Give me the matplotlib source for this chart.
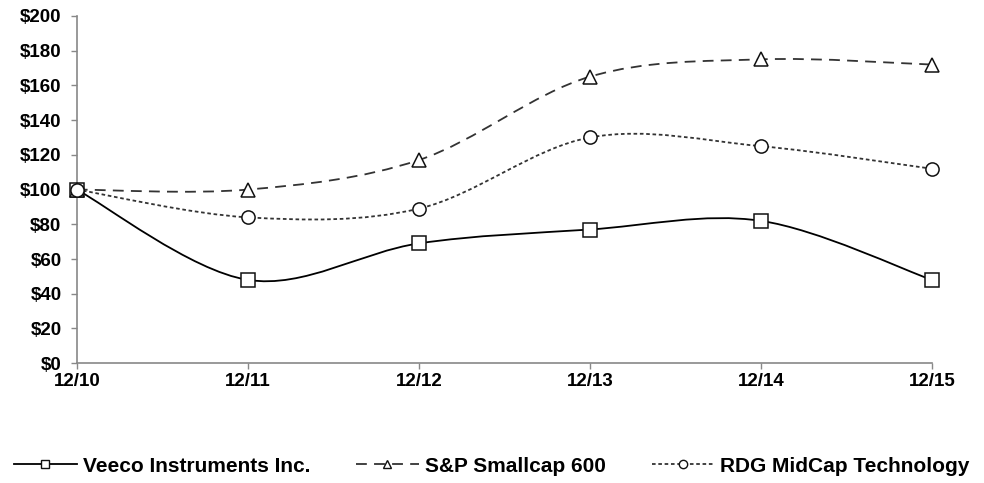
import numpy as np
import matplotlib.pyplot as plt
from matplotlib.path import Path
from matplotlib.patches import PathPatch
from matplotlib.lines import Line2D

plt.rcParams['font.family'] = ['Liberation Sans', 'DejaVu Sans']
plt.rcParams['font.weight'] = 'bold'

years = ['12/10', '12/11', '12/12', '12/13', '12/14', '12/15']
veeco = [100, 48, 69, 77, 82, 48]
sp600 = [100, 100, 117, 165, 175, 172]
rdg = [100, 84, 89, 130, 125, 112]
names = ['Veeco Instruments Inc.', 'S&P Smallcap 600', 'RDG MidCap Technology']


def smooth_path(xs, ys):
    # excel style smoothed line: cubic bezier through every point
    pts = np.column_stack([xs, ys]).astype(float)
    n = len(pts)
    verts = [pts[0]]
    codes = [Path.MOVETO]
    for i in range(n - 1):
        p0 = pts[i - 1] if i > 0 else pts[i]
        p1 = pts[i]
        p2 = pts[i + 1]
        p3 = pts[i + 2] if i + 2 < n else pts[i + 1]
        c1 = p1 + (p2 - p0) / 6.0
        c2 = p2 - (p3 - p1) / 6.0
        verts += [c1, c2, p2]
        codes += [Path.CURVE4] * 3
    return Path(verts, codes)


fig = plt.figure(figsize=(9.84, 4.83), dpi=100)
ax = fig.add_axes([0.078, 0.248, 0.869, 0.719])

x = np.arange(len(years))
styles = [
    (veeco, '#000000', '-', 's'),
    (sp600, '#333333', (0, (6, 4)), '^'),
    (rdg, '#333333', (0, (2, 1.5)), 'o'),
]
handles = []
for (vals, col, ls, mk), name in zip(styles, names):
    patch = PathPatch(smooth_path(x, vals), facecolor='none', edgecolor=col,
                      lw=1.3, linestyle=ls, zorder=2, clip_on=False)
    ax.add_patch(patch)
    ax.plot(x, vals, linestyle='none', marker=mk, markersize=9.5,
            markerfacecolor='white', markeredgecolor='#111111',
            markeredgewidth=1.1, zorder=3, clip_on=False)
    handles.append(Line2D([], [], color=col, lw=1.3, linestyle=ls, marker=mk,
                          markersize=6, markerfacecolor='white',
                          markeredgecolor='#111111', markeredgewidth=1.0))

ax.set_xlim(0, 5)
ax.set_ylim(0, 200)
ax.set_xticks(x)
ax.set_xticklabels(years)
ax.set_yticks(np.arange(0, 201, 20))
ax.set_yticklabels(['$' + str(v) for v in range(0, 201, 20)])
ax.tick_params(axis='both', labelsize=13.5, color='#888888', length=4, width=1)
ax.tick_params(axis='x', pad=3)
ax.tick_params(axis='y', pad=7)
for s in ['top', 'right']:
    ax.spines[s].set_visible(False)
for s in ['left', 'bottom']:
    ax.spines[s].set_color('#888888')
    ax.spines[s].set_linewidth(1.2)

fig.legend(handles, names, loc='center', ncol=3, frameon=False,
           bbox_to_anchor=(0.5, 0.035), fontsize=15, handlelength=3,
           columnspacing=2.2, handletextpad=0.3)

fig.savefig('out.png', dpi=100)
